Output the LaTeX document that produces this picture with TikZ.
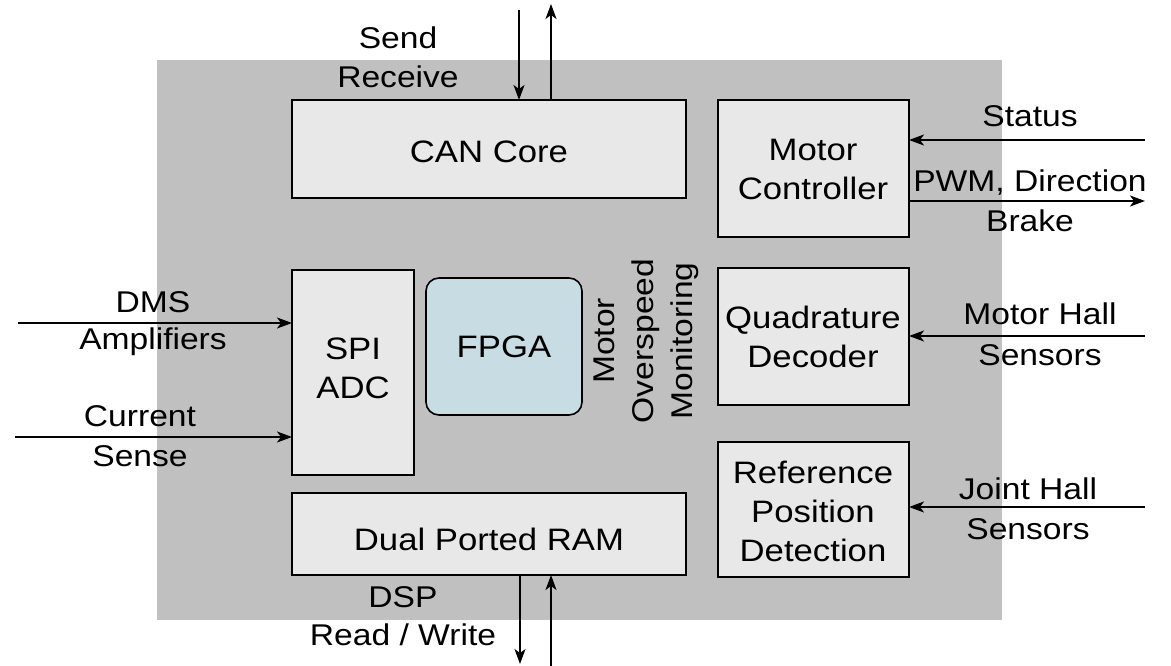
\documentclass[tikz,border=0pt]{standalone}
\usepackage{fontspec}
\setmainfont{Liberation Sans}[FakeStretch=1.12]
\usetikzlibrary{arrows.meta}
\definecolor{bggray}{HTML}{C0C0C0}
\definecolor{boxfill}{HTML}{E8E8E8}
\definecolor{fpgafill}{HTML}{C8DCE4}
\tikzset{
  blk/.style={draw=black, line width=1.6pt, fill=boxfill},
  lbl/.style={font=\fontsize{30}{39}\selectfont, align=center, inner sep=0pt},
  blbl/.style={font=\fontsize{31}{39}\selectfont, align=center, inner sep=0pt},
  sig/.style={line width=1.5pt, -{Stealth[length=15pt,width=11pt,inset=4pt]}}
}
\begin{document}
\begin{tikzpicture}[x=1pt,y=-1pt]
\useasboundingbox (0,0) rectangle (1171,666);
\fill[bggray] (157,60) rectangle (1002,620);
% blocks
\draw[blk] (292,100) rectangle (686,198);
\node[blbl] (can) at (489,152) {CAN Core};
\draw[blk] (718,100) rectangle (909,237);
\node[blbl] (mc) at (813,169) {Motor\\Controller};
\draw[blk] (718,268) rectangle (909,405);
\node[blbl] (qd) at (813,337) {Quadrature\\Decoder};
\draw[blk] (718,442) rectangle (909,577);
\node[blbl] (rpd) at (813,511) {Reference\\Position\\Detection};
\draw[blk] (292,270) rectangle (414,475);
\node[blbl] (spi) at (353,368) {SPI\\ADC};
\draw[blk, fill=fpgafill, rounded corners=13pt] (426,278) rectangle (582,415);
\node[blbl] (fpga) at (504,347) {FPGA};
\draw[blk] (292,493) rectangle (686,575);
\node[blbl] (ram) at (489,539) {Dual Ported RAM};
\node[lbl, rotate=90] (mom) at (646,341) {Motor\\Overspeed\\Monitoring};
% coordinates for connectors
\coordinate (sendS) at (519,10);
\coordinate (sendE) at (519,100);
\coordinate (recS) at (551,100);
\coordinate (recE) at (551,4);
\coordinate (statS) at (1145,140);
\coordinate (statE) at (909,140);
\coordinate (pwmS) at (909,201);
\coordinate (pwmE) at (1145,201);
\coordinate (mhS) at (1145,336);
\coordinate (mhE) at (909,336);
\coordinate (jhS) at (1145,507);
\coordinate (jhE) at (909,507);
\coordinate (dmsS) at (18,323);
\coordinate (dmsE) at (292,323);
\coordinate (curS) at (15,437);
\coordinate (curE) at (292,437);
\coordinate (rdS) at (520,575);
\coordinate (rdE) at (520,664);
\coordinate (wrS) at (551,668);
\coordinate (wrE) at (551,575);
\draw[sig] (sendS) -- (sendE);
\draw[sig] (recS) -- (recE);
\draw[sig] (statS) -- (statE);
\draw[sig] (pwmS) -- (pwmE);
\draw[sig] (mhS) -- (mhE);
\draw[sig] (jhS) -- (jhE);
\draw[sig] (dmsS) -- (dmsE);
\draw[sig] (curS) -- (curE);
\draw[sig] (rdS) -- (rdE);
\draw[sig] (wrS) -- (wrE);
% labels
\node[lbl] (l1) at (398,38) {Send};
\node[lbl] (l2) at (398,77) {Receive};
\node[lbl] (l3) at (1030,116) {Status};
\node[lbl] (l4) at (1030,183) {PWM, Direction};
\node[lbl] (l5) at (1030,221) {Brake};
\node[lbl] (l6) at (1040,314) {Motor Hall};
\node[lbl] (l7) at (1040,355) {Sensors};
\node[lbl] (l8) at (1028,489) {Joint Hall};
\node[lbl] (l9) at (1028,529) {Sensors};
\node[lbl] (l10) at (153,302) {DMS};
\node[lbl] (l11) at (153,342) {Amplifiers};
\node[lbl] (l12) at (140,416) {Current};
\node[lbl] (l13) at (140,456) {Sense};
\node[lbl] (l14) at (403,597) {DSP};
\node[lbl] (l15) at (403,635) {Read / Write};
\end{tikzpicture}
\end{document}
